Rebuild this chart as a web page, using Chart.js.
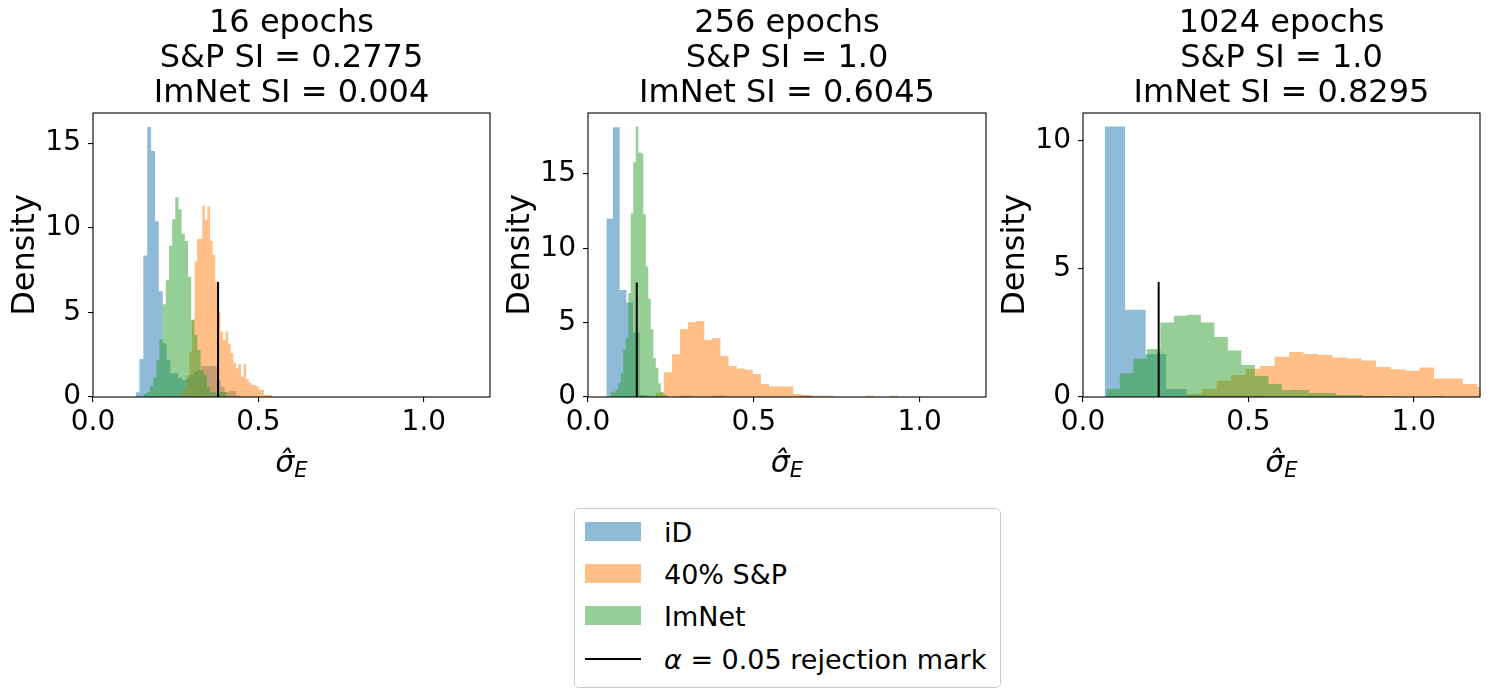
<!DOCTYPE html>
<html>
<head>
<meta charset="utf-8">
<script src="https://cdn.jsdelivr.net/npm/chart.js@4.4.0/dist/chart.umd.min.js"></script>
<style>
  body { margin: 0; background: #fff; width: 1490px; height: 698px; position: relative; overflow: hidden; font-family: "DejaVu Sans", sans-serif; }
  canvas { position: absolute; top: 0; }
  #legend { position: absolute; left: 574px; top: 508px; width: 425px; height: 178px; border: 1px solid #cccccc; border-radius: 5px; background: #fff; }
  .sw { position: absolute; left: 10px; width: 56px; height: 19px; }
  .lbl { position: absolute; left: 89px; font-size: 27px; line-height: 27px; white-space: nowrap; color: #000; }
</style>
</head>
<body>
<canvas id="c16" width="500" height="490" style="left:0px"></canvas>
<canvas id="c256" width="500" height="490" style="left:495px"></canvas>
<canvas id="c1024" width="500" height="490" style="left:990px"></canvas>

<div id="legend">
  <div class="sw" style="top:12.7px; background:rgba(31,119,180,0.5)"></div>
  <div class="lbl" style="top:10px">iD</div>
  <div class="sw" style="top:55px; background:rgba(255,127,14,0.5)"></div>
  <div class="lbl" style="top:52.2px">40% S&amp;P</div>
  <div class="sw" style="top:97px; background:rgba(44,160,44,0.5)"></div>
  <div class="lbl" style="top:94.4px">ImNet</div>
  <div class="sw" style="top:149px; height:2px; background:#000"></div>
  <div class="lbl" style="top:136.6px"><i>α</i> = 0.05 rejection mark</div>
</div>

<script>
// titles of the three panels
const panelTitles = [
    ["16 epochs", "S&P SI = 0.2775", "ImNet SI = 0.004"],
    ["256 epochs", "S&P SI = 1.0", "ImNet SI = 0.6045"],
    ["1024 epochs", "S&P SI = 1.0", "ImNet SI = 0.8295"]
];
const seriesNames = ["iD", "40% S&P", "ImNet"];
const xTicks = [0, 0.5, 1.0];
const yTicks = [[0, 5, 10, 15], [0, 5, 10, 15], [0, 5, 10]];
const xMax = 1.2;
const yMax = [16.78, 19.1, 11.08];

// alpha = 0.05 rejection mark: position on x and height of the line
const rejectX = [0.378, 0.147, 0.2287];
const rejectTop = [6.8, 7.7, 4.49];

// histogram bins: [first edge, bin width] for iD, S&P, ImNet
const bins16 = [[0.1289, 0.01168], [0.2679, 0.0078], [0.1531, 0.00957]];
const bins256 = [[0.0554, 0.0201], [0.2044, 0.02437], [0.0685, 0.00755]];
const bins1024 = [[0.0655, 0.0619], [0.3162, 0.0438], [0.0705, 0.0408]];

// densities per bin, 16 epochs
const iD16 = [0.28, 2.25, 8.36, 15.96, 14.54, 10.39, 6.25, 3.18, 2.2, 1.4, 1.4, 1.14, 1.0, 1.1, 1.3, 1.5,
    1.6, 1.83, 1.83, 1.83, 1.83, 1.0, 0.6, 0.3, 0.35, 0.35, 0.1];
const sp16 = [0.3, 0.5, 1.3, 2.68, 4.56, 8.0, 9.33, 9.33, 11.3, 10.47, 11.26, 9.23, 8.4, 6.82, 5.05, 3.87,
    3.37, 3.87, 3.14, 2.58, 2.03, 1.7, 1.93, 1.2, 1.93, 1.05, 0.85, 0.71, 0.71, 0.6, 0.41, 0.41, 0.12, 0.12, 0.12];
const imnet16 = [0.18, 0.3, 0.65, 1.14, 2.19, 3.41, 5.48, 6.9, 8.93, 10.5, 11.8, 11.1, 9.64, 9.23, 7.1, 4.56,
    3.67, 2.78, 1.6, 1.3, 0.6, 0.3, 0.3, 0.15, 0.3, 0.3];

// 256 epochs
const iD256 = [11.98, 18.15, 7.2, 6.35, 4.33, 0.13, 0.08, 0.05, 0, 0, 0, 0.08, 0.08, 0, 0, 0, 0.08, 0.08,
    0, 0, 0, 0, 0, 0, 0, 0, 0, 0, 0, 0.08, 0.08];
const sp256 = [0.29, 1.66, 2.87, 4.58, 5.02, 5.11, 3.84, 3.97, 2.76, 2.09, 1.91, 1.84, 1.55, 0.87, 0.7, 0.7,
    0.7, 0.2, 0.13, 0.09, 0.09, 0.09, 0, 0, 0, 0, 0.09, 0, 0, 0.09];
const imnet256 = [0.36, 0.36, 0.5, 0.96, 1.59, 3.16, 3.95, 7.0, 12.36, 15.79, 18.19, 16.44, 16.4, 12.3, 8.77,
    6.6, 4.55, 2.62, 1.97, 0.92, 0.36, 0.18, 0.1];

// 1024 epochs
const iD1024 = [10.55, 3.4, 1.67, 0.31, 0.1, 0.05, 0.05, 0.05, 0.02];
const sp1024 = [0.1, 0.31, 0.63, 0.86, 1.1, 1.21, 1.57, 1.76, 1.68, 1.64, 1.54, 1.5, 1.42, 1.17, 1.08, 1.02,
    1.15, 0.72, 0.72, 0.51, 0.39, 0.35, 0.3];
const imnet1024 = [0.31, 0.93, 1.49, 1.87, 2.91, 3.17, 3.21, 2.91, 2.34, 1.81, 1.25, 0.82, 0.51, 0.27, 0.27,
    0.16, 0.16, 0.08, 0.08, 0.04, 0.04, 0.02, 0, 0, 0.03];

const panelData = [
    [iD16, sp16, imnet16],
    [iD256, sp256, imnet256],
    [iD1024, sp1024, imnet1024]
];
const panelBins = [bins16, bins256, bins1024];
const canvasIds = ["c16", "c256", "c1024"];
const rightPad = [10, 9, 10];
const titleBaselines = [32, 67, 102];

const fillColors = ["rgba(31,119,180,0.5)", "rgba(255,127,14,0.5)", "rgba(44,160,44,0.5)"];
const drawOrder = [3, 2, 1];

Chart.defaults.font.family = "'DejaVu Sans', sans-serif";
Chart.defaults.color = "#000";

// bar tops as step points at the bin edges, closed back to zero on the last edge
function histPoints(bin, heights) {
    let pts = heights.map((h, i) => ({ x: bin[0] + i * bin[1], y: h }));
    pts.push({ x: bin[0] + heights.length * bin[1], y: 0 });
    return pts;
}

const frame = {
    id: "frame",
    afterDatasetsDraw(chart) {
        let a = chart.chartArea;
        let ctx = chart.ctx;
        ctx.save();
        ctx.strokeStyle = "#000";
        ctx.lineWidth = 1.1;
        ctx.strokeRect(a.left, a.top, a.right - a.left, a.bottom - a.top);
        ctx.restore();
    }
};

// three-line title centred over the plot area (not the whole canvas)
const panelTitle = {
    id: "panelTitle",
    afterDraw(chart, args, opts) {
        let a = chart.chartArea;
        let ctx = chart.ctx;
        ctx.save();
        ctx.fillStyle = "#000";
        ctx.font = "32px 'DejaVu Sans'";
        ctx.textAlign = "center";
        ctx.textBaseline = "alphabetic";
        opts.lines.forEach((t, i) => ctx.fillText(t, (a.left + a.right) / 2, titleBaselines[i]));
        ctx.restore();
    }
};

// x axis label: italic sigma with hat and subscript E
const sigmaLabel = {
    id: "sigmaLabel",
    afterDraw(chart) {
        let a = chart.chartArea;
        let ctx = chart.ctx;
        let cx = (a.left + a.right) / 2;
        ctx.save();
        ctx.fillStyle = "#000";
        ctx.textBaseline = "alphabetic";
        ctx.textAlign = "left";
        ctx.font = "italic 30px 'DejaVu Sans'";
        let w1 = ctx.measureText("σ̂").width;
        ctx.font = "italic 21px 'DejaVu Sans'";
        let w2 = ctx.measureText("E").width;
        let x0 = cx - (w1 + w2) / 2;
        ctx.font = "italic 30px 'DejaVu Sans'";
        ctx.fillText("σ̂", x0, 472);
        ctx.font = "italic 21px 'DejaVu Sans'";
        ctx.fillText("E", x0 + w1, 477);
        ctx.restore();
    }
};

function makePanel(p) {
    let datasets = panelData[p].map((heights, s) => ({
        label: seriesNames[s],
        data: histPoints(panelBins[p][s], heights),
        stepped: true,
        fill: "origin",
        backgroundColor: fillColors[s],
        borderWidth: 0,
        pointRadius: 0,
        order: drawOrder[s]
    }));
    datasets.push({
        label: "rejection mark",
        data: [{ x: rejectX[p], y: 0 }, { x: rejectX[p], y: rejectTop[p] }],
        borderColor: "#000",
        borderWidth: 2,
        pointRadius: 0,
        fill: false,
        order: 0
    });

    new Chart(document.getElementById(canvasIds[p]), {
        type: "line",
        data: { datasets: datasets },
        plugins: [frame, panelTitle, sigmaLabel],
        options: {
            responsive: false,
            animation: false,
            devicePixelRatio: 1,
            events: [],
            layout: { padding: { left: 0, right: rightPad[p], top: 113, bottom: 0 } },
            plugins: {
                legend: { display: false },
                tooltip: { enabled: false },
                title: { display: false },
                panelTitle: { lines: panelTitles[p] }
            },
            scales: {
                x: {
                    type: "linear",
                    min: 0,
                    max: xMax,
                    afterBuildTicks: s => { s.ticks = xTicks.map(v => ({ value: v })); },
                    afterFit: s => { s.height = 93; },
                    grid: { drawOnChartArea: false, drawTicks: true, tickLength: 5, color: "#000", lineWidth: 1.1 },
                    border: { display: false },
                    ticks: {
                        font: { size: 28 },
                        color: "#000",
                        padding: 4,
                        maxRotation: 0,
                        autoSkip: false,
                        callback: v => Number(v).toFixed(1)
                    }
                },
                y: {
                    min: 0,
                    max: yMax[p],
                    afterBuildTicks: s => { s.ticks = yTicks[p].map(v => ({ value: v })); },
                    afterFit: s => { s.width = 93; },
                    grid: { drawOnChartArea: false, drawTicks: true, tickLength: 5, color: "#000", lineWidth: 1.1 },
                    border: { display: false },
                    ticks: {
                        font: { size: 28 },
                        color: "#000",
                        padding: 7,
                        autoSkip: false,
                        callback: v => String(v)
                    },
                    title: {
                        display: true,
                        text: "Density",
                        color: "#000",
                        font: { size: 32, lineHeight: 1.0 },
                        padding: 10
                    }
                }
            }
        }
    });
}

for (let p = 0; p < 3; p++) {
    makePanel(p);
}
</script>
</body>
</html>
